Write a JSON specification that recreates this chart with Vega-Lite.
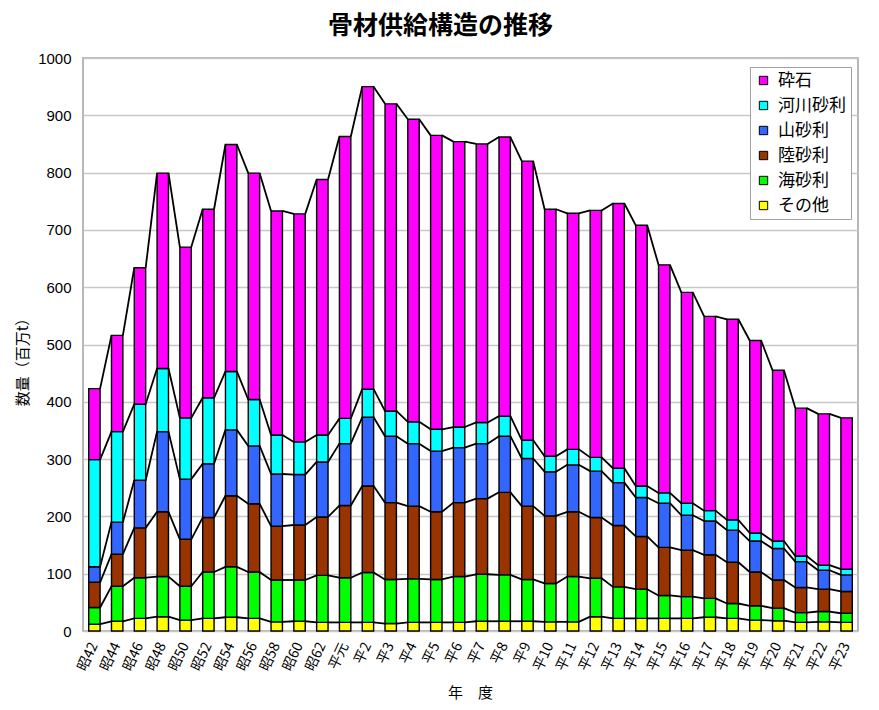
{
  "$schema": "https://vega.github.io/schema/vega-lite/v6.json",
  "autosize": "none",
  "padding": {"left": 83, "top": 58, "right": 21, "bottom": 79},
  "width": 775,
  "height": 573,
  "title": {
    "text": "骨材供給構造の推移",
    "font": "Noto Sans CJK JP",
    "fontSize": 25,
    "fontWeight": "bold",
    "color": "black",
    "anchor": "middle",
    "dx": -30,
    "offset": 12
  },
  "data": {
    "values": [
      {"year": "昭42", "type": "その他", "value": 12}, {"year": "昭42", "type": "海砂利", "value": 29}, {"year": "昭42", "type": "陸砂利", "value": 44}, {"year": "昭42", "type": "山砂利", "value": 27}, {"year": "昭42", "type": "河川砂利", "value": 187}, {"year": "昭42", "type": "砕石", "value": 124},
      {"year": "昭44", "type": "その他", "value": 17}, {"year": "昭44", "type": "海砂利", "value": 61}, {"year": "昭44", "type": "陸砂利", "value": 56}, {"year": "昭44", "type": "山砂利", "value": 56}, {"year": "昭44", "type": "河川砂利", "value": 158}, {"year": "昭44", "type": "砕石", "value": 168},
      {"year": "昭46", "type": "その他", "value": 22}, {"year": "昭46", "type": "海砂利", "value": 71}, {"year": "昭46", "type": "陸砂利", "value": 87}, {"year": "昭46", "type": "山砂利", "value": 83}, {"year": "昭46", "type": "河川砂利", "value": 133}, {"year": "昭46", "type": "砕石", "value": 238},
      {"year": "昭48", "type": "その他", "value": 25}, {"year": "昭48", "type": "海砂利", "value": 70}, {"year": "昭48", "type": "陸砂利", "value": 113}, {"year": "昭48", "type": "山砂利", "value": 140}, {"year": "昭48", "type": "河川砂利", "value": 110}, {"year": "昭48", "type": "砕石", "value": 341},
      {"year": "昭50", "type": "その他", "value": 19}, {"year": "昭50", "type": "海砂利", "value": 59}, {"year": "昭50", "type": "陸砂利", "value": 82}, {"year": "昭50", "type": "山砂利", "value": 105}, {"year": "昭50", "type": "河川砂利", "value": 107}, {"year": "昭50", "type": "砕石", "value": 298},
      {"year": "昭52", "type": "その他", "value": 22}, {"year": "昭52", "type": "海砂利", "value": 81}, {"year": "昭52", "type": "陸砂利", "value": 95}, {"year": "昭52", "type": "山砂利", "value": 94}, {"year": "昭52", "type": "河川砂利", "value": 115}, {"year": "昭52", "type": "砕石", "value": 329},
      {"year": "昭54", "type": "その他", "value": 24}, {"year": "昭54", "type": "海砂利", "value": 88}, {"year": "昭54", "type": "陸砂利", "value": 124}, {"year": "昭54", "type": "山砂利", "value": 115}, {"year": "昭54", "type": "河川砂利", "value": 102}, {"year": "昭54", "type": "砕石", "value": 396},
      {"year": "昭56", "type": "その他", "value": 22}, {"year": "昭56", "type": "海砂利", "value": 81}, {"year": "昭56", "type": "陸砂利", "value": 119}, {"year": "昭56", "type": "山砂利", "value": 101}, {"year": "昭56", "type": "河川砂利", "value": 81}, {"year": "昭56", "type": "砕石", "value": 395},
      {"year": "昭58", "type": "その他", "value": 16}, {"year": "昭58", "type": "海砂利", "value": 73}, {"year": "昭58", "type": "陸砂利", "value": 94}, {"year": "昭58", "type": "山砂利", "value": 91}, {"year": "昭58", "type": "河川砂利", "value": 68}, {"year": "昭58", "type": "砕石", "value": 391},
      {"year": "昭60", "type": "その他", "value": 17}, {"year": "昭60", "type": "海砂利", "value": 72}, {"year": "昭60", "type": "陸砂利", "value": 96}, {"year": "昭60", "type": "山砂利", "value": 88}, {"year": "昭60", "type": "河川砂利", "value": 57}, {"year": "昭60", "type": "砕石", "value": 398},
      {"year": "昭62", "type": "その他", "value": 15}, {"year": "昭62", "type": "海砂利", "value": 82}, {"year": "昭62", "type": "陸砂利", "value": 102}, {"year": "昭62", "type": "山砂利", "value": 96}, {"year": "昭62", "type": "河川砂利", "value": 47}, {"year": "昭62", "type": "砕石", "value": 446},
      {"year": "平元", "type": "その他", "value": 15}, {"year": "平元", "type": "海砂利", "value": 78}, {"year": "平元", "type": "陸砂利", "value": 126}, {"year": "平元", "type": "山砂利", "value": 108}, {"year": "平元", "type": "河川砂利", "value": 44}, {"year": "平元", "type": "砕石", "value": 492},
      {"year": "平2", "type": "その他", "value": 15}, {"year": "平2", "type": "海砂利", "value": 87}, {"year": "平2", "type": "陸砂利", "value": 151}, {"year": "平2", "type": "山砂利", "value": 120}, {"year": "平2", "type": "河川砂利", "value": 49}, {"year": "平2", "type": "砕石", "value": 528},
      {"year": "平3", "type": "その他", "value": 13}, {"year": "平3", "type": "海砂利", "value": 77}, {"year": "平3", "type": "陸砂利", "value": 134}, {"year": "平3", "type": "山砂利", "value": 116}, {"year": "平3", "type": "河川砂利", "value": 44}, {"year": "平3", "type": "砕石", "value": 536},
      {"year": "平4", "type": "その他", "value": 15}, {"year": "平4", "type": "海砂利", "value": 76}, {"year": "平4", "type": "陸砂利", "value": 127}, {"year": "平4", "type": "山砂利", "value": 109}, {"year": "平4", "type": "河川砂利", "value": 38}, {"year": "平4", "type": "砕石", "value": 528},
      {"year": "平5", "type": "その他", "value": 15}, {"year": "平5", "type": "海砂利", "value": 75}, {"year": "平5", "type": "陸砂利", "value": 118}, {"year": "平5", "type": "山砂利", "value": 106}, {"year": "平5", "type": "河川砂利", "value": 38}, {"year": "平5", "type": "砕石", "value": 513},
      {"year": "平6", "type": "その他", "value": 15}, {"year": "平6", "type": "海砂利", "value": 80}, {"year": "平6", "type": "陸砂利", "value": 129}, {"year": "平6", "type": "山砂利", "value": 96}, {"year": "平6", "type": "河川砂利", "value": 36}, {"year": "平6", "type": "砕石", "value": 498},
      {"year": "平7", "type": "その他", "value": 17}, {"year": "平7", "type": "海砂利", "value": 82}, {"year": "平7", "type": "陸砂利", "value": 132}, {"year": "平7", "type": "山砂利", "value": 96}, {"year": "平7", "type": "河川砂利", "value": 37}, {"year": "平7", "type": "砕石", "value": 486},
      {"year": "平8", "type": "その他", "value": 17}, {"year": "平8", "type": "海砂利", "value": 81}, {"year": "平8", "type": "陸砂利", "value": 144}, {"year": "平8", "type": "山砂利", "value": 98}, {"year": "平8", "type": "河川砂利", "value": 35}, {"year": "平8", "type": "砕石", "value": 487},
      {"year": "平9", "type": "その他", "value": 17}, {"year": "平9", "type": "海砂利", "value": 73}, {"year": "平9", "type": "陸砂利", "value": 128}, {"year": "平9", "type": "山砂利", "value": 83}, {"year": "平9", "type": "河川砂利", "value": 32}, {"year": "平9", "type": "砕石", "value": 487},
      {"year": "平10", "type": "その他", "value": 16}, {"year": "平10", "type": "海砂利", "value": 67}, {"year": "平10", "type": "陸砂利", "value": 118}, {"year": "平10", "type": "山砂利", "value": 77}, {"year": "平10", "type": "河川砂利", "value": 27}, {"year": "平10", "type": "砕石", "value": 431},
      {"year": "平11", "type": "その他", "value": 16}, {"year": "平11", "type": "海砂利", "value": 79}, {"year": "平11", "type": "陸砂利", "value": 113}, {"year": "平11", "type": "山砂利", "value": 82}, {"year": "平11", "type": "河川砂利", "value": 27}, {"year": "平11", "type": "砕石", "value": 412},
      {"year": "平12", "type": "その他", "value": 25}, {"year": "平12", "type": "海砂利", "value": 67}, {"year": "平12", "type": "陸砂利", "value": 106}, {"year": "平12", "type": "山砂利", "value": 81}, {"year": "平12", "type": "河川砂利", "value": 24}, {"year": "平12", "type": "砕石", "value": 431},
      {"year": "平13", "type": "その他", "value": 22}, {"year": "平13", "type": "海砂利", "value": 55}, {"year": "平13", "type": "陸砂利", "value": 107}, {"year": "平13", "type": "山砂利", "value": 75}, {"year": "平13", "type": "河川砂利", "value": 25}, {"year": "平13", "type": "砕石", "value": 462},
      {"year": "平14", "type": "その他", "value": 22}, {"year": "平14", "type": "海砂利", "value": 51}, {"year": "平14", "type": "陸砂利", "value": 92}, {"year": "平14", "type": "山砂利", "value": 68}, {"year": "平14", "type": "河川砂利", "value": 20}, {"year": "平14", "type": "砕石", "value": 455},
      {"year": "平15", "type": "その他", "value": 22}, {"year": "平15", "type": "海砂利", "value": 40}, {"year": "平15", "type": "陸砂利", "value": 84}, {"year": "平15", "type": "山砂利", "value": 77}, {"year": "平15", "type": "河川砂利", "value": 18}, {"year": "平15", "type": "砕石", "value": 398},
      {"year": "平16", "type": "その他", "value": 22}, {"year": "平16", "type": "海砂利", "value": 38}, {"year": "平16", "type": "陸砂利", "value": 81}, {"year": "平16", "type": "山砂利", "value": 61}, {"year": "平16", "type": "河川砂利", "value": 21}, {"year": "平16", "type": "砕石", "value": 368},
      {"year": "平17", "type": "その他", "value": 24}, {"year": "平17", "type": "海砂利", "value": 33}, {"year": "平17", "type": "陸砂利", "value": 76}, {"year": "平17", "type": "山砂利", "value": 59}, {"year": "平17", "type": "河川砂利", "value": 18}, {"year": "平17", "type": "砕石", "value": 339},
      {"year": "平18", "type": "その他", "value": 22}, {"year": "平18", "type": "海砂利", "value": 26}, {"year": "平18", "type": "陸砂利", "value": 72}, {"year": "平18", "type": "山砂利", "value": 56}, {"year": "平18", "type": "河川砂利", "value": 18}, {"year": "平18", "type": "砕石", "value": 350},
      {"year": "平19", "type": "その他", "value": 19}, {"year": "平19", "type": "海砂利", "value": 25}, {"year": "平19", "type": "陸砂利", "value": 59}, {"year": "平19", "type": "山砂利", "value": 54}, {"year": "平19", "type": "河川砂利", "value": 14}, {"year": "平19", "type": "砕石", "value": 336},
      {"year": "平20", "type": "その他", "value": 18}, {"year": "平20", "type": "海砂利", "value": 22}, {"year": "平20", "type": "陸砂利", "value": 49}, {"year": "平20", "type": "山砂利", "value": 55}, {"year": "平20", "type": "河川砂利", "value": 13}, {"year": "平20", "type": "砕石", "value": 298},
      {"year": "平21", "type": "その他", "value": 15}, {"year": "平21", "type": "海砂利", "value": 17}, {"year": "平21", "type": "陸砂利", "value": 44}, {"year": "平21", "type": "山砂利", "value": 45}, {"year": "平21", "type": "河川砂利", "value": 10}, {"year": "平21", "type": "砕石", "value": 258},
      {"year": "平22", "type": "その他", "value": 16}, {"year": "平22", "type": "海砂利", "value": 18}, {"year": "平22", "type": "陸砂利", "value": 39}, {"year": "平22", "type": "山砂利", "value": 33}, {"year": "平22", "type": "河川砂利", "value": 9}, {"year": "平22", "type": "砕石", "value": 264},
      {"year": "平23", "type": "その他", "value": 15}, {"year": "平23", "type": "海砂利", "value": 16}, {"year": "平23", "type": "陸砂利", "value": 38}, {"year": "平23", "type": "山砂利", "value": 29}, {"year": "平23", "type": "河川砂利", "value": 10}, {"year": "平23", "type": "砕石", "value": 264}
    ]
  },
  "transform": [
    {"window": [{"op": "row_number", "as": "rank"}], "groupby": ["year"]},
    {"stack": "value", "groupby": ["year"], "sort": [{"field": "rank", "order": "ascending"}], "as": ["v0", "v1"]},
    {"window": [{"op": "lead", "field": "v1", "as": "nv1"}, {"op": "lead", "field": "year", "as": "nyear"}], "groupby": ["type"]}
  ],
  "encoding": {
    "x": {
      "field": "year",
      "type": "nominal",
      "scale": {
        "domain": ["昭42", "昭44", "昭46", "昭48", "昭50", "昭52", "昭54", "昭56", "昭58", "昭60", "昭62", "平元", "平2", "平3", "平4", "平5", "平6", "平7", "平8", "平9", "平10", "平11", "平12", "平13", "平14", "平15", "平16", "平17", "平18", "平19", "平20", "平21", "平22", "平23"],
        "paddingInner": 0.5,
        "paddingOuter": 0.25
      },
      "axis": {
        "title": "年　度",
        "titleFont": "Noto Sans CJK JP",
        "titleFontSize": 15,
        "titleFontWeight": "normal",
        "titleColor": "black",
        "titleX": 387,
        "titleY": 61,
        "titleBaseline": "middle",
        "labelAngle": -65,
        "labelFont": "Noto Sans CJK JP",
        "labelFontSize": 14,
        "labelColor": "black",
        "labelPadding": 12,
        "ticks": false,
        "domain": false,
        "grid": false
      }
    },
    "y": {
      "field": "v1",
      "type": "quantitative",
      "scale": {"domain": [0, 1000], "nice": false},
      "axis": {
        "title": "数量（百万t）",
        "titleFont": "Noto Sans CJK JP",
        "titleFontSize": 15,
        "titleFontWeight": "normal",
        "titleColor": "black",
        "titleX": -61,
        "titleY": 300,
        "titleAngle": -90,
        "titleAlign": "center",
        "titleBaseline": "middle",
        "values": [0, 100, 200, 300, 400, 500, 600, 700, 800, 900, 1000],
        "format": "d",
        "labelFont": "Liberation Sans",
        "labelFontSize": 15,
        "labelColor": "black",
        "labelPadding": 12,
        "ticks": false,
        "domain": false,
        "grid": true,
        "gridColor": "#c8c8c8",
        "gridWidth": 1.5
      }
    }
  },
  "layer": [
    {
      "mark": {"type": "bar", "stroke": "black", "strokeWidth": 1.4},
      "encoding": {
        "y2": {"field": "v0"},
        "color": {
          "field": "type",
          "type": "nominal",
          "scale": {
            "domain": ["砕石", "河川砂利", "山砂利", "陸砂利", "海砂利", "その他"],
            "range": ["#ff00ff", "#00ffff", "#3366ff", "#993300", "#00ff00", "#ffff00"]
          },
          "legend": {
            "title": null,
            "orient": "none",
            "legendX": 667,
            "legendY": 9,
            "padding": 5,
            "rowPadding": 7,
            "strokeColor": "#a0a0a0",
            "fillColor": "white",
            "symbolType": "square",
            "symbolSize": 70,
            "symbolStrokeColor": "black",
            "symbolStrokeWidth": 1,
            "symbolOpacity": 1,
            "labelFont": "Noto Sans CJK JP",
            "labelFontSize": 17,
            "labelColor": "black",
            "labelOffset": 6
          }
        }
      }
    },
    {
      "transform": [{"filter": "datum.nyear != null"}],
      "mark": {"type": "rule", "color": "black", "strokeWidth": 1.8, "xOffset": 5.7, "x2Offset": -5.7},
      "encoding": {
        "x2": {"field": "nyear"},
        "y2": {"field": "nv1"}
      }
    }
  ],
  "config": {
    "view": {"stroke": "#a0a0a0", "strokeWidth": 1.5}
  }
}
